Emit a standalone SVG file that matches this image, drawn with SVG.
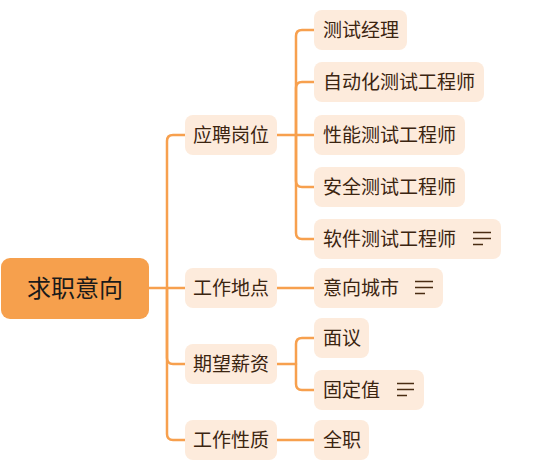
<svg xmlns="http://www.w3.org/2000/svg" width="537" height="463" viewBox="0 0 537 463">
<style>
.c{fill:none;stroke:#F7A04E;stroke-width:2.5;stroke-linecap:round;stroke-linejoin:round}
.leaf{fill:#FDEBDC}
.root{fill:#F6A04D}
.t{font-family:"Noto Sans CJK SC","Noto Sans",sans-serif;font-size:19px;fill:#3b2410}
.rt{font-family:"Noto Sans CJK SC","Noto Sans",sans-serif;font-size:24px;fill:#1a1a1a}
.n{stroke:#4a2c12;stroke-width:1.6;stroke-linecap:butt}
</style>
<rect width="537" height="463" fill="#ffffff"/>
<g id="connectors">
<path class="c" d="M149 288 H186"/>
<path class="c" d="M186 135 H173 Q167 135 167 141 V288"/>
<path class="c" d="M167 288 V358 Q167 364 173 364 H186"/>
<path class="c" d="M167 288 V434 Q167 440 173 440 H186"/>
<path class="c" d="M277 135 H314"/>
<path class="c" d="M296 135 V36 Q296 30 302 30 H314"/>
<path class="c" d="M296 135 V88 Q296 82 302 82 H314"/>
<path class="c" d="M296 135 V181 Q296 187 302 187 H314"/>
<path class="c" d="M296 135 V233 Q296 239 302 239 H314"/>
<path class="c" d="M277 288 H314"/>
<path class="c" d="M277 364 H296 V344 Q296 338 302 338 H314"/>
<path class="c" d="M296 364 V384 Q296 390 302 390 H314"/>
<path class="c" d="M277 440 H314"/>
</g>
<g id="root"><rect class="root" x="1" y="258" width="148" height="61" rx="9"/><text class="rt" x="75" y="297" text-anchor="middle">求职意向</text></g>
<g id="b1"><rect class="leaf" x="185" y="115" width="92" height="40" rx="8"/><text class="t" x="193" y="142">应聘岗位</text></g>
<g id="b2"><rect class="leaf" x="185" y="268" width="92" height="40" rx="8"/><text class="t" x="193" y="295">工作地点</text></g>
<g id="b3"><rect class="leaf" x="185" y="344" width="92" height="40" rx="8"/><text class="t" x="193" y="371">期望薪资</text></g>
<g id="b4"><rect class="leaf" x="185" y="420" width="92" height="40" rx="8"/><text class="t" x="193" y="447">工作性质</text></g>
<g id="l1"><rect class="leaf" x="314" y="10" width="93" height="40" rx="8"/><text class="t" x="323" y="37">测试经理</text></g>
<g id="l2"><rect class="leaf" x="314" y="62" width="170" height="40" rx="8"/><text class="t" x="323" y="89">自动化测试工程师</text></g>
<g id="l3"><rect class="leaf" x="314" y="115" width="151" height="40" rx="8"/><text class="t" x="323" y="142">性能测试工程师</text></g>
<g id="l4"><rect class="leaf" x="314" y="167" width="151" height="40" rx="8"/><text class="t" x="323" y="194">安全测试工程师</text></g>
<g id="l5"><rect class="leaf" x="314" y="219" width="187" height="40" rx="8"/><text class="t" x="323" y="246">软件测试工程师</text><path class="n" d="M473 232.5 H491 M473 238.5 H491 M473 244.5 H483"/></g>
<g id="l6"><rect class="leaf" x="314" y="268" width="129" height="40" rx="8"/><text class="t" x="323" y="295">意向城市</text><path class="n" d="M415 281.5 H433 M415 287.5 H433 M415 293.5 H425"/></g>
<g id="l7"><rect class="leaf" x="314" y="318" width="55" height="40" rx="8"/><text class="t" x="323" y="345">面议</text></g>
<g id="l8"><rect class="leaf" x="314" y="370" width="110" height="40" rx="8"/><text class="t" x="323" y="397">固定值</text><path class="n" d="M397 383.5 H414 M397 389.5 H414 M397 395.5 H407"/></g>
<g id="l9"><rect class="leaf" x="314" y="420" width="55" height="40" rx="8"/><text class="t" x="323" y="447">全职</text></g>
</svg>
